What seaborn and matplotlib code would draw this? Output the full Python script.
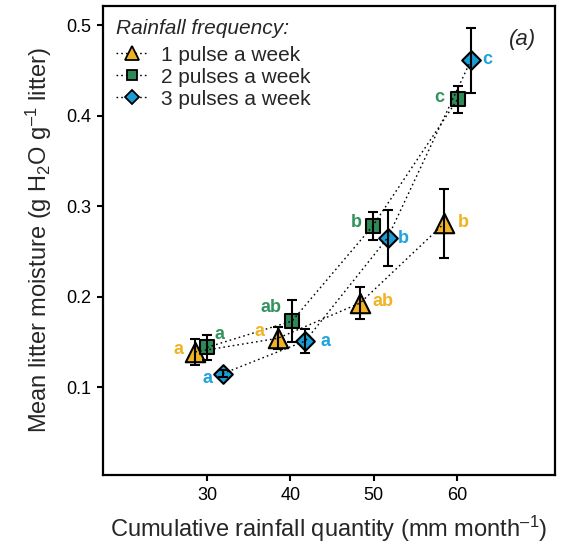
import matplotlib
matplotlib.use("Agg")
import matplotlib.pyplot as plt
from matplotlib.lines import Line2D
import seaborn as sns
import pandas as pd

# Rainfall treatments and measured litter moisture (mean ± SE)
frequencies = ["1 pulse a week", "2 pulses a week", "3 pulses a week"]

rain_1 = [28.6, 38.5, 48.4, 58.5]
moist_1 = [0.139, 0.154, 0.193, 0.281]
err_1 = [0.014, 0.012, 0.018, 0.038]
letters_1 = ["a", "a", "ab", "b"]

rain_2 = [30.0, 40.2, 49.9, 60.1]
moist_2 = [0.144, 0.173, 0.278, 0.418]
err_2 = [0.014, 0.023, 0.016, 0.015]
letters_2 = ["a", "ab", "b", "c"]

rain_3 = [31.9, 41.8, 51.7, 61.7]
moist_3 = [0.115, 0.151, 0.265, 0.461]
err_3 = [0.004, 0.013, 0.031, 0.036]
letters_3 = ["a", "a", "b", "c"]

colors = {"1 pulse a week": "#EFB324", "2 pulses a week": "#2E8B57", "3 pulses a week": "#1A9CD4"}
text_colors = {"1 pulse a week": "#F0B323", "2 pulses a week": "#33935E", "3 pulses a week": "#1EA3DB"}
markers = {"1 pulse a week": "^", "2 pulses a week": "s", "3 pulses a week": "D"}
msizes = {"1 pulse a week": 14, "2 pulses a week": 9.5, "3 pulses a week": 9.5}

# letter offsets (pixels) relative to each point
offsets = {
    "1 pulse a week": [(-17, 2), (-18, 7), (23, 1), (19, 1)],
    "2 pulses a week": [(12, 13), (-21, 14), (-16, 4), (-18, 2)],
    "3 pulses a week": [(-15, -5), (20, 0), (16, -1), (16, 1)],
}

rows = []
for f, xs, ys, es, ls in zip(frequencies, [rain_1, rain_2, rain_3],
                             [moist_1, moist_2, moist_3], [err_1, err_2, err_3],
                             [letters_1, letters_2, letters_3]):
    for x, y, e, l in zip(xs, ys, es, ls):
        rows.append({"freq": f, "rain": x, "moist": y, "se": e, "letter": l})
df = pd.DataFrame(rows)

sns.set_style("ticks")
plt.rcParams["font.family"] = ["Liberation Sans", "DejaVu Sans"]
plt.rcParams["mathtext.fontset"] = "custom"
plt.rcParams["mathtext.rm"] = "Liberation Sans"
plt.rcParams["mathtext.it"] = "Liberation Sans:italic"

fig = plt.figure(figsize=(5.61, 5.47), dpi=100)
ax = fig.add_axes([103 / 561, 1 - 475 / 547, (555 - 103) / 561, (475 - 6) / 547])

# markers
for f in frequencies:
    sub = df[df["freq"] == f]
    sns.scatterplot(data=sub, x="rain", y="moist", marker=markers[f], color=colors[f],
                    s=(msizes[f]) ** 2, edgecolor="black", linewidth=1.5, zorder=2,
                    ax=ax, legend=False)

# dotted connecting lines
sns.lineplot(data=df, x="rain", y="moist", units="freq", estimator=None, sort=True,
             color="black", linestyle=(0, (1.2, 2.2)), linewidth=1.0, zorder=3, ax=ax)

# error bars
for f in frequencies:
    sub = df[df["freq"] == f]
    ax.errorbar(sub["rain"], sub["moist"], yerr=sub["se"], fmt="none", ecolor="black",
                elinewidth=1.5, capsize=3.5, capthick=1.5, zorder=4)

# significance letters
for f in frequencies:
    sub = df[df["freq"] == f].reset_index(drop=True)
    for i, r in sub.iterrows():
        dx, dy = offsets[f][i]
        ax.annotate(r["letter"], (r["rain"], r["moist"]), xytext=(dx, dy),
                    textcoords="offset pixels", ha="center", va="center",
                    fontsize=13, fontweight="bold", color=text_colors[f], zorder=5)

ax.set_xlim(17.5, 71.8)
ax.set_ylim(0.003, 0.521)
ax.set_xticks([30, 40, 50, 60])
ax.set_yticks([0.1, 0.2, 0.3, 0.4, 0.5])
ax.set_xticklabels(["30", "40", "50", "60"])
ax.set_yticklabels(["0.1", "0.2", "0.3", "0.4", "0.5"])
ax.tick_params(direction="out", length=4.5, width=1.5, labelsize=13, pad=4, colors="black")
for s in ax.spines.values():
    s.set_linewidth(1.6)
    s.set_color("black")

ax.set_xlabel("Cumulative rainfall quantity (mm month$^{\u2013 1}$)", fontsize=17, labelpad=7)
ax.set_ylabel("Mean litter moisture (g H$_2$O g$^{\u2013 1}$ litter)", fontsize=17, labelpad=9)

# panel tag, placed in figure pixel coordinates
fig.text(523 / 561, 1 - 40 / 547, "(a)", fontsize=16, style="italic",
         ha="center", va="center")

handles = [Line2D([0], [0], color="black", linestyle=(0, (1.2, 2.2)), linewidth=1.0,
                  marker=markers[f], markersize=msizes[f] * 0.75, markerfacecolor=colors[f],
                  markeredgecolor="black", markeredgewidth=1.3)
           for f in frequencies]
leg = ax.legend(handles, frequencies, title="Rainfall frequency:", loc="upper left",
                bbox_to_anchor=(0.0, 1.0), frameon=False, fontsize=15,
                title_fontproperties={"style": "italic", "size": 15},
                handlelength=1.6, handletextpad=0.6, labelspacing=0.14,
                borderaxespad=0.25, borderpad=0.35, alignment="left")
# a little more room between the title and the entries
leg._legend_box.sep = 0.14 * 15 + 3.8

fig.savefig("out.png", dpi=100)
